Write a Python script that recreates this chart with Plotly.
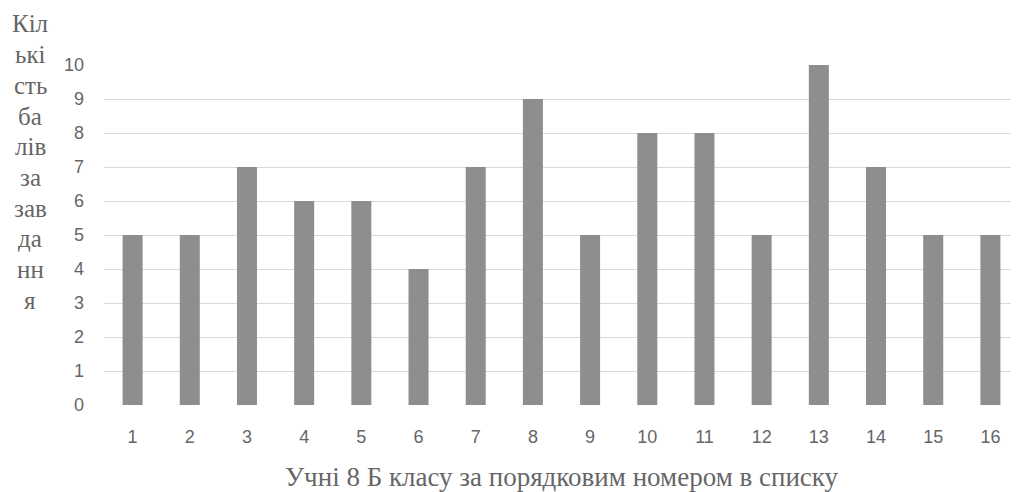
import plotly.graph_objects as go

students = [str(i) for i in range(1, 17)]
scores = [5, 5, 7, 6, 6, 4, 7, 9, 5, 8, 8, 5, 10, 7, 5, 5]
y_ticks = list(range(0, 11))
x_title = "Учні 8 Б класу за порядковим номером в списку"
y_title_lines = ["Кіл", "ькі", "сть", "ба", "лів", "за", "зав", "да", "нн", "я"]

# page body adds an 8px offset, so the figure is sized to end at the window edge
W, H = 1011, 484
L, R, T, B = 96, 0, 57, 87
plot_w = W - L - R
plot_h = H - T - B

fig = go.Figure()
fig.add_trace(go.Bar(
    x=students, y=scores,
    marker=dict(color="#8e8e8e", line=dict(width=0)),
    hoverinfo="x+y",
))

annotations = []
first_c, pitch = 16, 30.7
for i, txt in enumerate(y_title_lines):
    cy = first_c + pitch * i
    annotations.append(dict(
        text=txt, xref="paper", yref="paper",
        x=(22 - L) / plot_w, y=(H - B - cy) / plot_h,
        xanchor="center", yanchor="middle", showarrow=False,
        font=dict(family="Liberation Serif", size=25, color="#666666"),
    ))
annotations.append(dict(
    text=x_title, xref="paper", yref="paper",
    x=0.5, y=(H - B - 469) / plot_h,
    xanchor="center", yanchor="middle", showarrow=False,
    font=dict(family="Liberation Serif", size=27, color="#666666"),
))

fig.update_layout(
    width=W, height=H,
    margin=dict(l=L, r=R, t=T, b=B, pad=0),
    paper_bgcolor="white", plot_bgcolor="white",
    bargap=0.65, showlegend=False,
    annotations=annotations,
    xaxis=dict(
        type="category", showgrid=False, showline=False, zeroline=False,
        ticks="", tickfont=dict(family="Liberation Sans", size=18, color="#666666"),
        ticklabelstandoff=19,
    ),
    yaxis=dict(
        range=[0, 10], tickvals=y_ticks, showgrid=True, gridcolor="#d9d9d9",
        gridwidth=1, zeroline=False, showline=False, ticks="",
        tickfont=dict(family="Liberation Sans", size=18, color="#666666"),
        ticklabelstandoff=19,
    ),
)

fig.write_html("out.html")
